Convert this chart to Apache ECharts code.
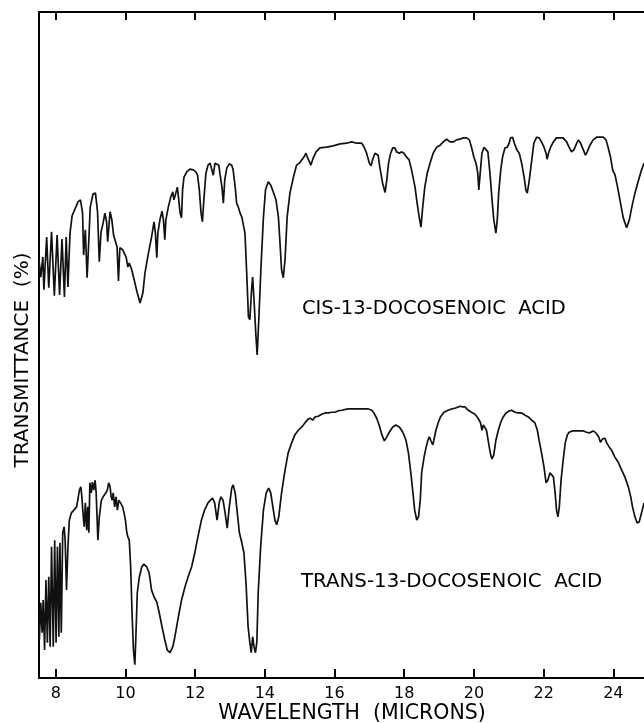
<!DOCTYPE html>
<html>
<head>
<meta charset="utf-8">
<script src="https://cdn.jsdelivr.net/npm/echarts@6/dist/echarts.min.js"></script>
<style>
html,body{margin:0;padding:0;background:#fff;}
#chart{width:644px;height:723px;}
</style>
</head>
<body>
<div id="chart"></div>
<script>
// Wavelength axis (microns)
const xMin = 7.52;
const xMax = 24.88;
const tickValues = [8, 10, 12, 14, 16, 18, 20, 22, 24];

// cis-13-docosenoic acid: wavelength (microns) and relative transmittance
const cisWavelength = [7.52,7.57,7.63,7.66,7.74,7.80,7.88,7.96,8.04,8.11,8.18,8.25,8.30,8.35,8.41,8.47,8.55,8.64,8.71,8.77,8.80,8.85,8.90,8.95,8.99,9.07,9.14,9.20,9.25,9.30,9.36,9.41,9.46,9.49,9.56,9.61,9.66,9.71,9.76,9.80,9.84,9.92,10.02,10.07,10.11,10.18,10.25,10.34,10.42,10.50,10.56,10.66,10.75,10.82,10.86,10.90,10.93,10.99,11.05,11.09,11.13,11.16,11.23,11.30,11.36,11.39,11.43,11.49,11.53,11.57,11.61,11.64,11.68,11.76,11.85,11.95,12.02,12.07,12.12,12.17,12.21,12.25,12.31,12.37,12.43,12.48,12.52,12.57,12.62,12.68,12.71,12.77,12.81,12.85,12.91,12.98,13.05,13.09,13.15,13.19,13.24,13.29,13.34,13.38,13.43,13.48,13.53,13.57,13.62,13.65,13.69,13.74,13.78,13.83,13.89,13.96,14.02,14.10,14.17,14.24,14.32,14.39,14.43,14.48,14.53,14.58,14.64,14.72,14.82,14.91,14.99,15.06,15.12,15.18,15.22,15.28,15.32,15.39,15.47,15.58,15.77,15.96,16.16,16.35,16.49,16.64,16.78,16.85,16.92,17.00,17.05,17.09,17.16,17.21,17.25,17.30,17.38,17.45,17.50,17.55,17.61,17.67,17.73,17.78,17.86,17.93,17.99,18.07,18.14,18.21,18.31,18.37,18.43,18.48,18.53,18.59,18.66,18.74,18.83,18.93,19.03,19.12,19.22,19.31,19.41,19.50,19.60,19.69,19.79,19.87,19.93,20.00,20.06,20.11,20.14,20.18,20.23,20.29,20.34,20.40,20.46,20.52,20.57,20.63,20.67,20.71,20.77,20.82,20.89,20.96,21.01,21.05,21.11,21.16,21.23,21.30,21.37,21.44,21.49,21.53,21.59,21.66,21.72,21.80,21.87,21.94,22.01,22.07,22.10,22.14,22.20,22.28,22.37,22.47,22.56,22.66,22.73,22.80,22.83,22.87,22.95,23.00,23.06,23.14,23.20,23.25,23.33,23.42,23.52,23.62,23.71,23.79,23.85,23.92,23.98,24.05,24.11,24.19,24.28,24.38,24.46,24.53,24.62,24.71,24.81,24.88];
const cisTransmittance = [62.8,60.2,63.2,58.3,66.2,58.6,67.0,57.4,66.5,57.5,65.9,57.2,66.2,58.7,66.8,69.4,70.4,71.5,71.8,69.8,63.5,67.3,60.1,65.8,70.7,72.7,72.8,70.0,62.5,67.0,68.3,69.8,68.5,65.5,70.0,68.8,66.5,66.2,64.7,59.6,64.6,64.3,63.2,61.7,62.3,61.3,59.8,57.8,56.3,57.8,60.8,63.8,66.2,68.5,66.8,63.1,66.8,68.8,70.1,68.8,65.8,68.8,70.7,72.2,73.0,71.8,72.5,73.7,71.8,69.8,69.1,73.3,75.2,76.0,76.4,76.3,76.0,75.5,73.3,69.8,68.5,71.8,75.8,77.0,77.3,76.3,75.5,77.3,77.5,77.0,75.8,73.7,71.3,74.8,76.6,77.2,77.0,76.3,73.7,71.3,70.7,69.8,69.2,69.2,66.8,60.8,54.2,53.8,58.3,60.2,56.8,51.8,48.5,54.2,61.7,69.2,73.3,74.5,74.0,73.0,71.8,69.2,65.8,61.3,60.1,62.8,69.2,72.8,75.2,77.0,77.3,77.8,78.2,78.8,78.2,77.5,77.0,78.1,79.0,79.6,79.7,79.9,80.2,80.3,80.5,80.3,80.3,79.7,78.8,77.3,76.9,77.8,78.8,79.0,78.5,76.7,74.3,72.9,74.8,77.3,78.8,79.6,79.6,79.0,78.8,79.0,78.8,78.2,77.8,76.3,73.7,71.3,69.2,67.7,70.7,73.7,75.8,77.3,78.8,79.7,80.0,80.5,80.9,80.5,80.5,80.8,80.9,81.1,81.1,80.8,79.7,78.2,77.3,75.8,73.3,75.8,78.8,79.7,79.7,79.0,75.8,71.8,68.8,66.8,68.8,72.8,76.3,78.2,79.6,79.7,80.3,81.1,81.2,80.3,79.3,78.8,77.3,75.2,73.3,72.8,74.8,77.8,80.3,81.2,81.1,80.5,79.7,78.8,77.9,78.8,79.7,80.5,81.1,81.1,81.1,80.5,79.7,79.0,78.8,79.3,80.3,80.8,80.3,79.3,78.5,79.0,80.0,80.8,81.2,81.2,81.2,80.8,79.7,78.2,76.3,75.5,74.0,71.8,69.2,67.6,68.8,70.7,72.8,74.5,76.3,77.3];

// trans-13-docosenoic acid
const transWavelength = [7.53,7.57,7.61,7.64,7.68,7.72,7.76,7.80,7.84,7.88,7.93,7.97,8.01,8.05,8.09,8.12,8.16,8.20,8.24,8.27,8.31,8.35,8.39,8.45,8.52,8.60,8.68,8.72,8.75,8.79,8.82,8.85,8.89,8.92,8.95,8.98,9.02,9.05,9.09,9.13,9.16,9.21,9.25,9.31,9.36,9.44,9.48,9.52,9.56,9.59,9.62,9.65,9.69,9.73,9.77,9.81,9.86,9.92,9.96,10.00,10.04,10.07,10.11,10.15,10.19,10.23,10.27,10.30,10.34,10.40,10.47,10.53,10.61,10.68,10.75,10.82,10.90,10.97,11.05,11.13,11.20,11.28,11.36,11.42,11.52,11.61,11.71,11.80,11.90,11.99,12.08,12.18,12.27,12.37,12.44,12.50,12.56,12.63,12.69,12.74,12.80,12.86,12.92,12.98,13.05,13.09,13.15,13.21,13.27,13.34,13.40,13.46,13.52,13.57,13.61,13.65,13.69,13.73,13.77,13.81,13.88,13.96,14.04,14.11,14.17,14.23,14.29,14.34,14.40,14.48,14.58,14.67,14.77,14.86,14.96,15.06,15.15,15.25,15.31,15.37,15.44,15.53,15.63,15.73,15.82,15.92,15.96,16.01,16.10,16.20,16.39,16.58,16.78,16.97,17.07,17.13,17.21,17.28,17.36,17.43,17.50,17.57,17.67,17.76,17.86,17.96,18.05,18.12,18.19,18.25,18.30,18.36,18.41,18.46,18.50,18.57,18.63,18.68,18.72,18.76,18.82,18.85,18.91,18.98,19.04,19.14,19.26,19.36,19.45,19.55,19.62,19.68,19.74,19.84,19.93,20.03,20.12,20.19,20.23,20.27,20.32,20.36,20.42,20.48,20.52,20.57,20.63,20.70,20.77,20.84,20.92,21.01,21.08,21.18,21.27,21.37,21.46,21.56,21.66,21.75,21.82,21.87,21.94,22.01,22.07,22.12,22.18,22.23,22.28,22.33,22.37,22.41,22.45,22.50,22.56,22.62,22.68,22.73,22.83,22.95,23.04,23.14,23.23,23.31,23.35,23.42,23.50,23.58,23.63,23.69,23.76,23.81,23.88,23.95,24.04,24.14,24.24,24.33,24.43,24.50,24.55,24.62,24.68,24.74,24.81,24.88];
const transTransmittance = [5.7,11.3,6.8,11.7,4.2,14.7,5.3,15.2,4.7,19.7,4.7,20.7,5.3,19.7,6.2,20.3,6.8,21.8,22.7,20.7,13.2,19.7,23.7,24.8,25.2,25.7,28.2,28.7,27.2,24.2,22.7,26.3,22.2,25.7,21.8,29.3,27.8,29.4,28.2,29.7,27.8,20.7,24.2,26.7,27.2,27.8,28.2,29.3,28.7,27.2,26.7,27.8,25.7,27.2,25.2,26.7,26.3,25.7,24.8,23.7,21.8,21.2,20.7,16.7,9.8,4.2,2.0,6.2,12.8,15.2,16.7,17.1,16.7,15.8,13.2,12.2,11.4,9.8,7.7,5.7,4.2,3.8,4.7,6.2,9.2,11.7,13.7,15.2,16.7,18.8,21.2,23.7,25.2,26.3,26.7,27.0,26.3,23.7,26.3,27.2,26.7,24.8,22.5,25.7,28.5,29.0,27.8,24.8,21.8,20.3,18.8,14.3,7.7,5.3,3.8,6.2,4.7,3.8,5.3,12.8,19.7,25.2,27.8,28.5,27.8,25.7,23.7,23.0,24.2,27.8,31.2,33.8,35.3,36.5,37.2,37.7,38.3,38.9,39.0,38.7,39.2,39.3,39.6,39.8,39.8,39.9,39.8,39.9,40.1,40.2,40.4,40.4,40.4,40.4,40.2,39.8,39.0,38.0,36.5,35.6,36.2,36.9,37.7,38.0,37.7,36.9,35.7,33.8,30.8,27.8,25.2,23.7,24.2,26.7,30.8,33.2,34.7,35.7,36.2,35.7,35.0,35.7,37.2,38.4,39.2,39.9,40.2,40.4,40.5,40.7,40.8,40.7,40.7,40.2,39.9,39.6,39.0,38.3,37.2,38.0,38.3,37.2,35.3,33.5,32.9,33.5,35.7,37.2,38.4,39.2,39.8,40.1,40.2,39.9,39.8,39.8,39.5,39.2,38.7,38.3,37.2,35.7,33.8,31.7,29.3,29.7,30.8,30.9,30.2,27.8,25.2,24.2,25.7,29.7,32.7,35.3,36.5,36.9,37.1,37.1,37.1,37.1,36.9,36.8,37.1,37.1,36.8,36.2,35.4,35.9,36.0,35.3,34.7,34.2,33.2,32.4,31.2,30.2,28.7,27.2,25.7,24.2,23.3,23.4,24.8,26.3];

const yTitle = 'TRANSMITTANCE  (%)';
const xTitle = 'WAVELENGTH  (MICRONS)';
const cisLabel = 'CIS-13-DOCOSENOIC  ACID';
const transLabel = 'TRANS-13-DOCOSENOIC  ACID';

function pairs(xs, ys) { return xs.map((x, i) => [x, ys[i]]); }

const FONT = '"DejaVu Sans", "Liberation Sans", sans-serif';
const chart = echarts.init(document.getElementById('chart'), null, {renderer: 'canvas'});

const axisLineStyle = {color: '#000', width: 2};
chart.setOption({
  backgroundColor: '#fff',
  animation: false,
  grid: {left: 39, right: 0, top: 12, bottom: 45, containLabel: false},
  xAxis: [
    {
      type: 'value', position: 'bottom', min: xMin, max: xMax,
      axisLine: {show: true, onZero: false, lineStyle: axisLineStyle},
      axisTick: {show: true, inside: true, length: 9, customValues: tickValues, lineStyle: {color: '#000', width: 2}},
      axisLabel: {show: true, customValues: tickValues, color: '#000', fontSize: 16, fontFamily: FONT, margin: 8},
      splitLine: {show: false}
    },
    {
      type: 'value', position: 'top', min: xMin, max: xMax,
      axisLine: {show: true, onZero: false, lineStyle: axisLineStyle},
      axisTick: {show: true, inside: true, length: 8, customValues: tickValues, lineStyle: {color: '#000', width: 2}},
      axisLabel: {show: false},
      splitLine: {show: false}
    }
  ],
  yAxis: {
    type: 'value', min: 0, max: 100,
    axisLine: {show: true, onZero: false, lineStyle: axisLineStyle},
    axisTick: {show: false}, axisLabel: {show: false}, splitLine: {show: false}
  },
  graphic: [
    {type: 'text', x: 23, y: 360, rotation: Math.PI / 2,
     style: {text: yTitle, font: '20px ' + FONT, fill: '#000', align: 'center', verticalAlign: 'middle'}},
    {type: 'text', x: 352, y: 714,
     style: {text: xTitle, font: '20.5px ' + FONT, fill: '#000', align: 'center', verticalAlign: 'middle'}},
    {type: 'text', x: 302, y: 309,
     style: {text: cisLabel, font: '19.5px ' + FONT, fill: '#000', align: 'left', verticalAlign: 'middle'}},
    {type: 'text', x: 301, y: 582,
     style: {text: transLabel, font: '19.8px ' + FONT, fill: '#000', align: 'left', verticalAlign: 'middle'}}
  ],
  series: [
    {type: 'line', xAxisIndex: 0, data: pairs(cisWavelength, cisTransmittance), showSymbol: false,
     lineStyle: {color: '#111', width: 1.7}, clip: true},
    {type: 'line', xAxisIndex: 0, data: pairs(transWavelength, transTransmittance), showSymbol: false,
     lineStyle: {color: '#111', width: 1.7}, clip: true}
  ]
});
</script>
</body>
</html>
